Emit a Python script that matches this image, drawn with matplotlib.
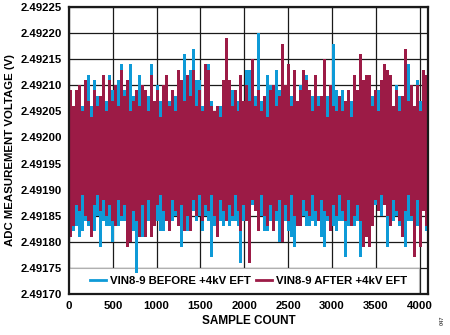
import numpy as np
import matplotlib
matplotlib.use("Agg")
from matplotlib import pyplot as plt
from matplotlib.patches import Rectangle

# envelope of each 34-sample block (upper / lower value)
before_hi = [2.49207, 2.49205, 2.49208, 2.49207, 2.49206, 2.49208, 2.49212, 2.49206, 2.49211, 2.49208,
             2.49205, 2.49210, 2.49207, 2.49212, 2.49209, 2.49206, 2.49211, 2.49214, 2.49209, 2.49207,
             2.49214, 2.49208, 2.49206, 2.49212, 2.49210, 2.49206, 2.49208, 2.49214, 2.49205, 2.49210,
             2.49207, 2.49206, 2.49209, 2.49207, 2.49206, 2.49208, 2.49209, 2.49207, 2.49216, 2.49209,
             2.49213, 2.49217, 2.49211, 2.49211, 2.49206, 2.49208, 2.49214, 2.49207, 2.49205, 2.49204,
             2.49206, 2.49208, 2.49207, 2.49209, 2.49209, 2.49206, 2.49207, 2.49210, 2.49206, 2.49213,
             2.49213, 2.49211, 2.49208, 2.49220, 2.49207, 2.49206, 2.49212, 2.49210, 2.49206, 2.49213,
             2.49209, 2.49207, 2.49206, 2.49210, 2.49208, 2.49211, 2.49205, 2.49210, 2.49207, 2.49212,
             2.49206, 2.49208, 2.49210, 2.49208, 2.49205, 2.49210, 2.49208, 2.49206, 2.49218, 2.49209,
             2.49207, 2.49209, 2.49205, 2.49208, 2.49207, 2.49209, 2.49206, 2.49210, 2.49207, 2.49211,
             2.49211, 2.49208, 2.49206, 2.49209, 2.49210, 2.49207, 2.49209, 2.49210, 2.49206, 2.49210,
             2.49208, 2.49207, 2.49206, 2.49214, 2.49208, 2.49206, 2.49211, 2.49207, 2.49210, 2.49211]
before_lo = [2.49183, 2.49182, 2.49183, 2.49181, 2.49182, 2.49184, 2.49183, 2.49183, 2.49182, 2.49185,
             2.49179, 2.49184, 2.49183, 2.49183, 2.49180, 2.49184, 2.49183, 2.49184, 2.49184, 2.49183,
             2.49183, 2.49182, 2.49174, 2.49183, 2.49181, 2.49183, 2.49184, 2.49182, 2.49183, 2.49184,
             2.49182, 2.49182, 2.49184, 2.49184, 2.49184, 2.49185, 2.49184, 2.49179, 2.49184, 2.49182,
             2.49185, 2.49186, 2.49184, 2.49185, 2.49182, 2.49185, 2.49184, 2.49177, 2.49183, 2.49183,
             2.49184, 2.49183, 2.49184, 2.49183, 2.49184, 2.49184, 2.49183, 2.49176, 2.49184, 2.49184,
             2.49184, 2.49187, 2.49187, 2.49184, 2.49185, 2.49182, 2.49182, 2.49184, 2.49184, 2.49184,
             2.49180, 2.49183, 2.49184, 2.49182, 2.49181, 2.49179, 2.49184, 2.49184, 2.49185, 2.49183,
             2.49183, 2.49184, 2.49183, 2.49184, 2.49181, 2.49179, 2.49184, 2.49184, 2.49183, 2.49182,
             2.49184, 2.49184, 2.49177, 2.49183, 2.49184, 2.49183, 2.49184, 2.49177, 2.49184, 2.49183,
             2.49184, 2.49184, 2.49187, 2.49186, 2.49185, 2.49188, 2.49179, 2.49184, 2.49184, 2.49185,
             2.49183, 2.49184, 2.49179, 2.49184, 2.49184, 2.49184, 2.49183, 2.49184, 2.49186, 2.49182]
after_hi = [2.49209, 2.49206, 2.49209, 2.49210, 2.49205, 2.49211, 2.49207, 2.49204, 2.49209, 2.49206,
            2.49208, 2.49212, 2.49205, 2.49211, 2.49207, 2.49210, 2.49206, 2.49213, 2.49208, 2.49211,
            2.49205, 2.49207, 2.49209, 2.49206, 2.49210, 2.49209, 2.49205, 2.49212, 2.49207, 2.49209,
            2.49204, 2.49210, 2.49212, 2.49206, 2.49209, 2.49205, 2.49213, 2.49211, 2.49207, 2.49212,
            2.49208, 2.49213, 2.49206, 2.49209, 2.49205, 2.49214, 2.49213, 2.49206, 2.49205, 2.49206,
            2.49204, 2.49211, 2.49219, 2.49211, 2.49206, 2.49209, 2.49205, 2.49212, 2.49207, 2.49210,
            2.49207, 2.49215, 2.49206, 2.49209, 2.49205, 2.49208, 2.49204, 2.49209, 2.49210, 2.49206,
            2.49208, 2.49218, 2.49210, 2.49214, 2.49206, 2.49213, 2.49207, 2.49209, 2.49213, 2.49211,
            2.49209, 2.49205, 2.49212, 2.49206, 2.49208, 2.49215, 2.49204, 2.49210, 2.49206, 2.49205,
            2.49208, 2.49205, 2.49207, 2.49209, 2.49204, 2.49212, 2.49209, 2.49216, 2.49211, 2.49212,
            2.49212, 2.49206, 2.49209, 2.49205, 2.49211, 2.49214, 2.49213, 2.49212, 2.49206, 2.49209,
            2.49205, 2.49208, 2.49217, 2.49207, 2.49210, 2.49206, 2.49210, 2.49205, 2.49213, 2.49212]
after_lo = [2.49181, 2.49183, 2.49187, 2.49186, 2.49189, 2.49185, 2.49184, 2.49181, 2.49187, 2.49189,
            2.49186, 2.49188, 2.49185, 2.49187, 2.49184, 2.49183, 2.49188, 2.49185, 2.49187, 2.49179,
            2.49180, 2.49186, 2.49184, 2.49181, 2.49187, 2.49181, 2.49188, 2.49181, 2.49183, 2.49187,
            2.49189, 2.49186, 2.49184, 2.49182, 2.49188, 2.49186, 2.49183, 2.49187, 2.49182, 2.49185,
            2.49182, 2.49188, 2.49185, 2.49189, 2.49184, 2.49187, 2.49186, 2.49189, 2.49185, 2.49181,
            2.49188, 2.49186, 2.49184, 2.49187, 2.49185, 2.49189, 2.49186, 2.49182, 2.49187, 2.49184,
            2.49176, 2.49188, 2.49186, 2.49182, 2.49189, 2.49185, 2.49183, 2.49187, 2.49182, 2.49186,
            2.49188, 2.49180, 2.49187, 2.49184, 2.49189, 2.49185, 2.49183, 2.49183, 2.49188, 2.49186,
            2.49185, 2.49189, 2.49186, 2.49184, 2.49188, 2.49186, 2.49185, 2.49182, 2.49187, 2.49185,
            2.49189, 2.49186, 2.49184, 2.49188, 2.49183, 2.49185, 2.49187, 2.49184, 2.49179, 2.49181,
            2.49179, 2.49183, 2.49188, 2.49186, 2.49189, 2.49187, 2.49185, 2.49183, 2.49188, 2.49186,
            2.49184, 2.49181, 2.49186, 2.49189, 2.49185, 2.49177, 2.49188, 2.49179, 2.49186, 2.49183]

n_samples = 4096
labels = ["VIN8-9 BEFORE +4kV EFT", "VIN8-9 AFTER +4kV EFT"]
colors = ["#0e9ad7", "#9c1b46"]
yticks = [2.49170, 2.49175, 2.49180, 2.49185, 2.49190, 2.49195,
          2.49200, 2.49205, 2.49210, 2.49215, 2.49220, 2.49225]
xticks = [0, 500, 1000, 1500, 2000, 2500, 3000, 3500, 4000]

plt.rcParams['font.family'] = ['Liberation Sans', 'DejaVu Sans']
plt.rcParams['font.weight'] = 'bold'

fig = plt.figure(figsize=(4.5, 3.35), dpi=100)
ax = fig.add_axes([0.1533, 0.1224, 0.7977, 0.8567])

for (hi, lo), lab, col in zip([(before_hi, before_lo), (after_hi, after_lo)], labels, colors):
    n = len(hi)
    # block edges in sample units, last value repeated to close the final step
    x = np.arange(n + 1) * (n_samples / n)
    top = np.append(hi, hi[-1])
    bot = np.append(lo, lo[-1])
    ax.fill_between(x, bot, top, step="post", color=col, lw=0, zorder=2)
    ax.plot([], [], color=col, lw=2, label=lab)

ax.set_xlim(0, n_samples)
ax.set_ylim(2.49170, 2.49225)
ax.set_xticks(xticks)
ax.set_yticks(yticks)
ax.set_yticklabels([f"{v:.5f}" for v in yticks])
ax.grid(True, color="#1a1a1a", lw=0.9, zorder=0)
ax.set_axisbelow(True)
ax.tick_params(length=0, labelsize=8.2, pad=5)
for s in ax.spines.values():
    s.set_linewidth(1.6)
    s.set_color("#1a1a1a")

ax.add_patch(Rectangle((0, 0), 0.975, 0.092, transform=ax.transAxes,
                       facecolor="white", edgecolor="#b0b0b0", lw=0.8, zorder=1.8))
leg = ax.legend(loc="lower center", bbox_to_anchor=(0.5, 0.005), ncol=2, frameon=False,
                fontsize=8.2, handlelength=1.4, handletextpad=0.3, columnspacing=0.5,
                borderaxespad=0.2)
leg.set_zorder(5)

ax.set_xlabel("SAMPLE COUNT", fontsize=8.5, fontweight="bold", labelpad=3)
ax.set_ylabel("ADC MEASUREMENT VOLTAGE (V)", fontsize=8.2, fontweight="bold", labelpad=4)

fig.text(0.982, 0.045, "047", rotation=90, fontsize=4, color="#555555",
         ha="center", va="center")

fig.savefig("out.png", dpi=100)
